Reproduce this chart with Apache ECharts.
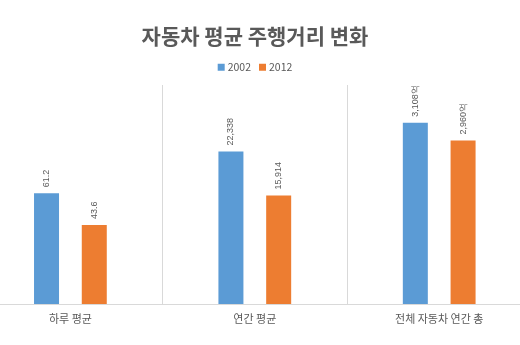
<!DOCTYPE html>
<html><head><meta charset="utf-8">
<script src="https://cdn.jsdelivr.net/npm/echarts@6/dist/echarts.min.js"></script>
<style>html,body{margin:0;padding:0;background:#fff;overflow:hidden;width:520px;height:345px}
#c{position:absolute;left:-22px;top:0;width:554px;height:345px}</style>
</head><body><div id="c"></div>
<script>
const categories = ['하루 평균', '연간 평균', '전체 자동차 연간 총'];
const seriesNames = ['2002', '2012'];
const values2002 = [61.2, 22338, 3108];
const values2012 = [43.6, 15914, 2960];
const units = ['', '', '억'];

// per-group hidden value-axis ranges (each category has its own scale)
const axisMin = [0, 0, 1600];
const axisMax = [121, 32100, 3421];

const colors = ['#5b9bd5', '#ed7d31'];
const textColor = '#595959';
const groupW = 184.4, startX = 0.2, gridTop = 85, gridBottom = 41;

const grids = [], xAxes = [], yAxes = [], series = [];
categories.forEach((cat, i) => {
  grids.push({left: startX + groupW * i, width: groupW, top: gridTop, bottom: gridBottom, containLabel: false});
  xAxes.push({
    type: 'category', gridIndex: i, data: [cat],
    axisLine: {lineStyle: {color: '#d9d9d9'}},
    axisTick: {show: false},
    axisLabel: {color: textColor, fontSize: 11, margin: 9, fontFamily: 'Noto Sans CJK KR'},
    splitLine: {show: true, lineStyle: {color: '#d9d9d9'}}
  });
  yAxes.push({type: 'value', gridIndex: i, min: axisMin[i], max: axisMax[i], show: false, splitLine: {show: false}});
  [values2002, values2012].forEach((vals, s) => {
    series.push({
      type: 'bar', name: seriesNames[s], xAxisIndex: i, yAxisIndex: i,
      data: [vals[i]], barWidth: 25, barGap: '91%',
      itemStyle: {color: colors[s]},
      label: {
        show: true, position: 'top', rotate: 90, align: 'left', verticalAlign: 'middle',
        distance: 6, color: textColor, fontSize: 9, fontFamily: 'Liberation Sans',
        formatter: p => p.value.toLocaleString('en-US') + units[i]
      }
    });
  });
});

const chart = echarts.init(document.getElementById('c'), null, {renderer: 'canvas'});
chart.setOption({
  animation: false,
  backgroundColor: '#fff',
  title: {text: '자동차 평균 주행거리 변화', left: 'center', top: 21,
    textStyle: {color: textColor, fontSize: 21, fontWeight: 'bold', fontFamily: 'Noto Sans CJK KR'}},
  legend: {data: seriesNames, top: 57, left: 'center', itemWidth: 7, itemHeight: 7, itemGap: 8,
    icon: 'rect', textStyle: {color: textColor, fontSize: 10.5, fontFamily: 'Noto Sans CJK KR', padding: [0, 0, 0, -2]}},
  grid: grids, xAxis: xAxes, yAxis: yAxes, series: series
});
</script></body></html>
